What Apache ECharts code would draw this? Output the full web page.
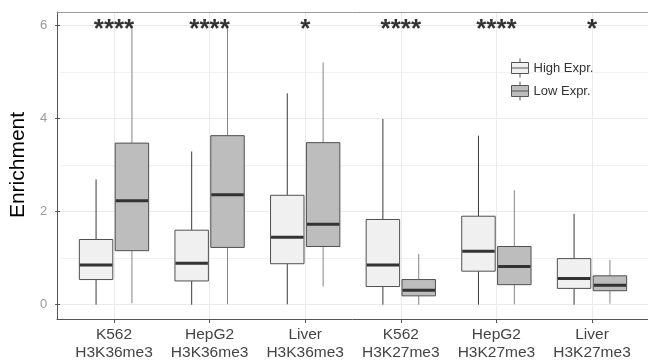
<!DOCTYPE html>
<html>
<head>
<meta charset="utf-8">
<script src="https://cdn.jsdelivr.net/npm/echarts@6/dist/echarts.min.js"></script>
<style>
  html, body { margin: 0; padding: 0; background: #fff; }
  #chart { width: 648px; height: 362px; }
</style>
</head>
<body>
<div id="chart"></div>
<script>
  // categories (two-line labels)
  var categories = ['K562\nH3K36me3', 'HepG2\nH3K36me3', 'Liver\nH3K36me3',
                    'K562\nH3K27me3', 'HepG2\nH3K27me3', 'Liver\nH3K27me3'];
  // [min, q1, median, q3, max]
  var highExpr = [
    [0.00, 0.54, 0.85, 1.40, 2.69],
    [0.00, 0.51, 0.89, 1.60, 3.29],
    [0.01, 0.88, 1.45, 2.35, 4.54],
    [0.00, 0.39, 0.85, 1.83, 3.99],
    [0.00, 0.72, 1.15, 1.90, 3.63],
    [0.00, 0.35, 0.56, 0.99, 1.95]
  ];
  var lowExpr = [
    [0.03, 1.16, 2.23, 3.47, 6.00],
    [0.01, 1.23, 2.36, 3.63, 6.00],
    [0.39, 1.25, 1.73, 3.48, 5.20],
    [0.00, 0.19, 0.31, 0.54, 1.09],
    [0.01, 0.43, 0.82, 1.25, 2.46],
    [0.02, 0.30, 0.42, 0.62, 0.96]
  ];
  var stars = ['****', '****', '*', '****', '****', '*'];
  var starLevel = 6;
  var yTicks = [0, 2, 4, 6];

  var FONT = 'Liberation Sans, Arial, sans-serif';

  function toRows(arr) {
    return arr.map(function (d, i) { return [i].concat(d); });
  }

  // 画箱线图
  function makeRender(offset, fill, whiskerColor) {
    return function (params, api) {
      var x = api.value(0);
      var lo = api.coord([x, api.value(1)]);
      var q1 = api.coord([x, api.value(2)]);
      var med = api.coord([x, api.value(3)]);
      var q3 = api.coord([x, api.value(4)]);
      var hi = api.coord([x, api.value(5)]);
      var band = api.size([1, 0])[0];
      var w = band * 0.35;
      var cx = lo[0] + band * offset;
      var l = cx - w / 2;
      return {
        type: 'group',
        children: [
          { type: 'line', shape: { x1: cx, y1: q3[1], x2: cx, y2: hi[1] },
            style: { stroke: whiskerColor, lineWidth: 1 } },
          { type: 'line', shape: { x1: cx, y1: lo[1], x2: cx, y2: q1[1] },
            style: { stroke: whiskerColor, lineWidth: 1 } },
          { type: 'rect', shape: { x: l, y: q3[1], width: w, height: q1[1] - q3[1] },
            style: { fill: fill, stroke: '#505050', lineWidth: 1 } },
          { type: 'line', shape: { x1: l + 0.5, y1: med[1], x2: l + w - 0.5, y2: med[1] },
            style: { stroke: '#333', lineWidth: 3 } }
        ]
      };
    };
  }

  var chart = echarts.init(document.getElementById('chart'));
  var boxIcon = 'path://M8.5,0 L8.5,4 M0,4 L17,4 L17,15 L0,15 Z M0,9.5 L17,9.5 M8.5,15 L8.5,19';

  chart.setOption({
    animation: false,
    textStyle: { fontFamily: FONT },
    grid: [
      // panel border
      { left: 57, right: 0, top: 12, bottom: 43 },
      // horizontal grid lines, y scale
      { left: 57, right: 0, top: 25.3, bottom: 57.3 },
      // vertical grid lines, x labels
      { left: 114, right: 56, top: 12, bottom: 43 },
      // data
      { left: 114, right: 56, top: 25.3, bottom: 57.3 }
    ],
    legend: {
      orient: 'vertical',
      left: 506,
      top: 53,
      itemWidth: 17,
      itemHeight: 19,
      itemGap: 3,
      itemTextGap: 4,
      textStyle: { fontSize: 13, color: '#333', fontFamily: FONT },
      itemStyle: { borderColor: '#555', borderWidth: 1 },
      data: [
        { name: 'High Expr.', icon: boxIcon },
        { name: 'Low Expr.', icon: boxIcon }
      ]
    },
    xAxis: [
      { gridIndex: 0, type: 'value', position: 'bottom',
        axisLine: { show: true, lineStyle: { color: '#555' } },
        axisTick: { show: false }, axisLabel: { show: false }, splitLine: { show: false } },
      { gridIndex: 0, type: 'value', position: 'top',
        axisLine: { show: true, lineStyle: { color: '#9a9a9a' } },
        axisTick: { show: false }, axisLabel: { show: false }, splitLine: { show: false } },
      { gridIndex: 1, type: 'value', show: false },
      { gridIndex: 2, type: 'category', data: categories, boundaryGap: false,
        axisLine: { show: false },
        axisTick: { show: true, length: 4, alignWithLabel: true, lineStyle: { color: '#555' } },
        axisLabel: { interval: 0, margin: 7, fontSize: 15.5, lineHeight: 18, color: '#444', fontFamily: FONT },
        splitLine: { show: true, lineStyle: { color: '#ebebeb', width: 1 } } },
      { gridIndex: 3, type: 'category', data: categories, boundaryGap: false, show: false }
    ],
    yAxis: [
      { gridIndex: 0, type: 'value', position: 'left',
        axisLine: { show: true, lineStyle: { color: '#555' } },
        axisTick: { show: false }, axisLabel: { show: false }, splitLine: { show: false } },
      { gridIndex: 1, type: 'value', min: yTicks[0], max: yTicks[yTicks.length - 1], interval: 2,
        name: 'Enrichment', nameLocation: 'middle', nameRotate: 90, nameGap: 27,
        nameTextStyle: { fontSize: 21, color: '#000', fontFamily: FONT },
        axisLine: { show: false },
        axisTick: { show: true, length: 5, lineStyle: { color: '#555' } },
        axisLabel: { margin: 13, fontSize: 13, color: '#9a9a9a', fontFamily: FONT },
        splitLine: { show: true, lineStyle: { color: '#ebebeb', width: 1 } },
        minorTick: { show: false, splitNumber: 2 },
        minorSplitLine: { show: true, lineStyle: { color: '#f1f1f1', width: 1 } } },
      { gridIndex: 2, type: 'value', show: false },
      { gridIndex: 3, type: 'value', min: 0, max: 6, show: false }
    ],
    series: [
      {
        name: 'High Expr.',
        type: 'custom',
        xAxisIndex: 4, yAxisIndex: 3,
        itemStyle: { color: '#f0f0f0', borderColor: '#555' },
        renderItem: makeRender(-0.1875, '#f0f0f0', '#3a3a3a'),
        encode: { x: 0, y: [1, 2, 3, 4, 5] },
        data: toRows(highExpr)
      },
      {
        name: 'Low Expr.',
        type: 'custom',
        xAxisIndex: 4, yAxisIndex: 3,
        itemStyle: { color: '#bdbdbd', borderColor: '#555' },
        renderItem: makeRender(0.1875, '#bdbdbd', '#858585'),
        encode: { x: 0, y: [1, 2, 3, 4, 5] },
        data: toRows(lowExpr)
      },
      {
        name: 'signif',
        type: 'scatter',
        xAxisIndex: 4, yAxisIndex: 3,
        symbolSize: 1,
        itemStyle: { color: 'rgba(0,0,0,0)' },
        z: 5,
        label: {
          show: true, position: 'inside', offset: [0, 5],
          fontSize: 26, fontWeight: 'bold', color: '#000', fontFamily: FONT,
          formatter: function (p) { return stars[p.dataIndex]; }
        },
        data: stars.map(function (s, i) { return [i, starLevel]; })
      }
    ]
  });
</script>
</body>
</html>
